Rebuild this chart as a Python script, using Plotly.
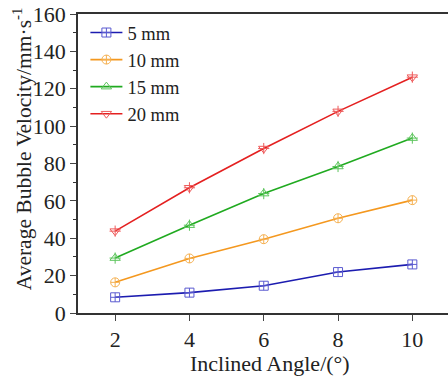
import plotly.graph_objects as go

angles = [2, 4, 6, 8, 10]
v5 = [8.4, 10.9, 14.6, 21.9, 26.0]
v10 = [16.4, 29.2, 39.5, 50.7, 60.4]
v15 = [29.4, 47.0, 63.9, 78.4, 93.6]
v20 = [43.8, 67.0, 88.0, 107.9, 126.2]
names = ["5 mm", "10 mm", "15 mm", "20 mm"]
series = [v5, v10, v15, v20]
line_colors = ["#1c1cb0", "#f4981f", "#20aa20", "#e42020"]
marker_colors = ["#5a5ad0", "#f5b050", "#5cc45c", "#ee5a5a"]
symbols = ["square-cross-open", "circle-cross-open", "triangle-up-open", "triangle-down-open"]

FONT = "Liberation Serif"
fig = go.Figure()
for n, vals, lc, mc, sym in zip(names, series, line_colors, marker_colors, symbols):
    fig.add_trace(go.Scatter(
        x=angles, y=vals, name=n, mode="lines+markers",
        line=dict(color=lc, width=1.6),
        marker=dict(symbol=sym, size=9, color=mc, line=dict(width=1, color=mc)),
    ))
    if "triangle" in sym:
        fig.add_trace(go.Scatter(
            x=angles, y=vals, mode="markers", showlegend=False, hoverinfo="skip",
            marker=dict(symbol="cross-thin-open", size=8, color=mc, line=dict(width=1, color=mc)),
        ))

fig.update_layout(
    width=448, height=378,
    margin=dict(l=78, r=0, t=14, b=65),
    paper_bgcolor="white", plot_bgcolor="white",
    font=dict(family=FONT, color="#222"),
    showlegend=True,
    legend=dict(x=0.02, y=1.0, xanchor="left", yanchor="top",
                font=dict(family=FONT, size=18.5, color="#222"),
                bgcolor="rgba(0,0,0,0)", tracegroupgap=0, itemwidth=32),
    xaxis=dict(range=[1, 10.96], tickvals=angles, ticks="outside", ticklen=6, tickwidth=1.3,
               showline=True, linecolor="#333", linewidth=1.5, mirror=True,
               showgrid=False, zeroline=False,
               tickfont=dict(family=FONT, size=22, color="#222")),
    yaxis=dict(range=[0, 160], dtick=20, ticks="outside", ticklen=6, tickwidth=1.3,
               showline=True, linecolor="#333", linewidth=1.5,
               showgrid=False, zeroline=False,
               minor=dict(dtick=10, ticks="outside", ticklen=3, tickwidth=1.1, tickcolor="#333"),
               tickfont=dict(family=FONT, size=22, color="#222")),
)
fig.add_annotation(text="Average Bubble Velocity/mm·s<sup>-1</sup>", xref="paper", yref="paper",
                   x=-0.151, y=0.548, xanchor="center", yanchor="middle", textangle=-90,
                   showarrow=False, font=dict(family=FONT, size=21.5, color="#222"))
fig.add_annotation(text="Inclined Angle/(°)", xref="paper", yref="paper",
                   x=0.52, y=-0.17, xanchor="center", yanchor="middle",
                   showarrow=False, font=dict(family=FONT, size=22, color="#222"))
fig.write_html("out.html")
